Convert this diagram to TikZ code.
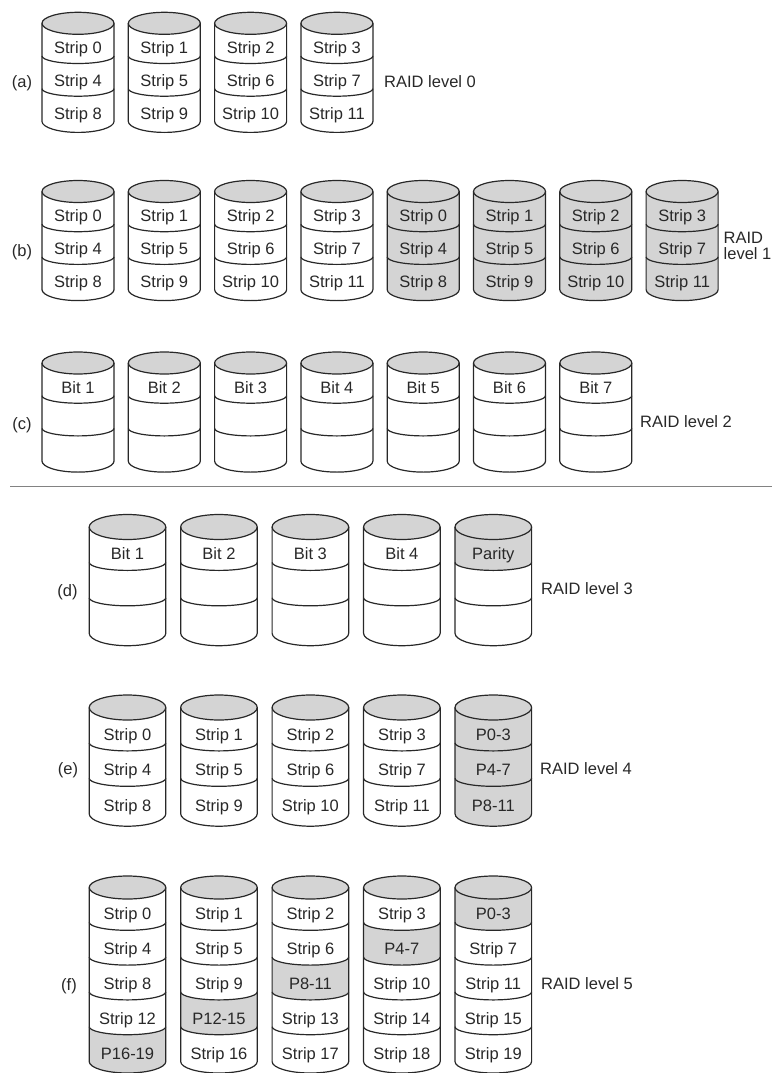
\documentclass[tikz,border=0pt]{standalone}
\usepackage{fontspec}
\setmainfont{Liberation Sans}
\definecolor{diskgray}{RGB}{212,212,212}
\definecolor{ink}{RGB}{40,40,40}
\definecolor{rulegray}{RGB}{130,130,130}
\tikzset{
  disklabel/.style={font=\fontsize{16.5}{19}\selectfont, text=ink, anchor=base, inner sep=0pt},
  rowlabel/.style={font=\fontsize{16.5}{19}\selectfont, text=ink, anchor=base, inner sep=0pt},
  raidlabel/.style={font=\fontsize{16.5}{19}\selectfont, text=ink, anchor=base west, inner sep=0pt},
  diskline/.style={draw=ink, line width=1.2pt},
  separator/.style={draw=rulegray, line width=1.3pt},
}
% #1 name, #2 centre x, #3 top-ellipse centre y (downwards), #4 number of segments, #5 label/shade list
\newcommand{\mydisk}[5]{%
  \pgfmathsetmacro{\dcx}{#2}%
  \pgfmathsetmacro{\dyt}{-(#3)}%
  \pgfmathsetmacro{\dyb}{-(#3)-(#4)*\Seg}%
  \foreach \lab/\sh [count=\k] in {#5} {%
    \pgfmathsetmacro{\ya}{\dyt-(\k-1)*\Seg}%
    \pgfmathsetmacro{\yb}{\dyt-\k*\Seg}%
    \pgfmathsetmacro{\ra}{\k==1 ? \Ry : \Dry}%
    \pgfmathsetmacro{\rb}{\k==#4 ? \Ry : \Dry}%
    \ifnum\sh=1
      \fill[diskgray] (\dcx-\Rx,\ya) arc[start angle=180,end angle=360,x radius=\Rx pt,y radius=\ra pt]
        -- (\dcx+\Rx,\yb) arc[start angle=360,end angle=180,x radius=\Rx pt,y radius=\rb pt] -- cycle;
    \fi
    \pgfmathsetmacro{\yt}{\dyt-(\k-0.5)*\Seg-\Toff-6}%
    \node[disklabel] (#1-\k) at (\dcx,\yt) {\lab};
  }%
  \filldraw[diskline, fill=diskgray] (\dcx,\dyt) ellipse[x radius=\Rx pt, y radius=\Ry pt];
  \draw[diskline] (\dcx-\Rx,\dyt) -- (\dcx-\Rx,\dyb)
    arc[start angle=180,end angle=360,x radius=\Rx pt,y radius=\Ry pt] -- (\dcx+\Rx,\dyt);
  \pgfmathtruncatemacro{\nm}{#4-1}%
  \foreach \j in {1,...,\nm} {%
    \draw[diskline] (\dcx-\Rx,\dyt-\j*\Seg) arc[start angle=180,end angle=360,x radius=\Rx pt,y radius=\Dry pt];
  }%
}
\begin{document}
\begin{tikzpicture}[x=1pt,y=1pt]
\useasboundingbox (0,0) rectangle (772,-1073);
% ---------- upper rows ----------
\def\Rx{36}\def\Ry{11}\def\Seg{32.7}\def\Dry{7.5}\def\Toff{8}
% (a)
\mydisk{a1}{78}{23.3}{3}{Strip 0/0,Strip 4/0,Strip 8/0}
\mydisk{a2}{164.3}{23.3}{3}{Strip 1/0,Strip 5/0,Strip 9/0}
\mydisk{a3}{250.6}{23.3}{3}{Strip 2/0,Strip 6/0,Strip 10/0}
\mydisk{a4}{336.9}{23.3}{3}{Strip 3/0,Strip 7/0,Strip 11/0}
\node[rowlabel] (la) at (22,-88) {(a)};
\node[raidlabel] (ra) at (384,-88) {RAID level 0};
% (b)
\mydisk{b1}{78}{191.5}{3}{Strip 0/0,Strip 4/0,Strip 8/0}
\mydisk{b2}{164.3}{191.5}{3}{Strip 1/0,Strip 5/0,Strip 9/0}
\mydisk{b3}{250.6}{191.5}{3}{Strip 2/0,Strip 6/0,Strip 10/0}
\mydisk{b4}{336.9}{191.5}{3}{Strip 3/0,Strip 7/0,Strip 11/0}
\mydisk{b5}{423.2}{191.5}{3}{Strip 0/1,Strip 4/1,Strip 8/1}
\mydisk{b6}{509.5}{191.5}{3}{Strip 1/1,Strip 5/1,Strip 9/1}
\mydisk{b7}{595.8}{191.5}{3}{Strip 2/1,Strip 6/1,Strip 10/1}
\mydisk{b8}{682.1}{191.5}{3}{Strip 3/1,Strip 7/1,Strip 11/1}
\node[rowlabel] (lb) at (22,-256) {(b)};
\node[raidlabel] (rb1) at (723.5,-243) {RAID};
\node[raidlabel] (rb2) at (723.5,-259) {level 1};
% (c)
\mydisk{c1}{78}{363}{3}{Bit 1/0,/0,/0}
\mydisk{c2}{164.3}{363}{3}{Bit 2/0,/0,/0}
\mydisk{c3}{250.6}{363}{3}{Bit 3/0,/0,/0}
\mydisk{c4}{336.9}{363}{3}{Bit 4/0,/0,/0}
\mydisk{c5}{423.2}{363}{3}{Bit 5/0,/0,/0}
\mydisk{c6}{509.5}{363}{3}{Bit 6/0,/0,/0}
\mydisk{c7}{595.8}{363}{3}{Bit 7/0,/0,/0}
\node[rowlabel] (lc) at (22,-429) {(c)};
\node[raidlabel] (rc) at (640,-427) {RAID level 2};
% separator
\coordinate (sepL) at (10,-486.7);
\coordinate (sepR) at (772,-486.7);
\draw[separator] (sepL) -- (sepR);
% ---------- lower rows ----------
\def\Rx{38.3}\def\Ry{12.5}\def\Seg{35.4}\def\Dry{8}\def\Toff{9}
% (d)
\mydisk{d1}{127.5}{527}{3}{Bit 1/0,/0,/0}
\mydisk{d2}{218.95}{527}{3}{Bit 2/0,/0,/0}
\mydisk{d3}{310.4}{527}{3}{Bit 3/0,/0,/0}
\mydisk{d4}{401.85}{527}{3}{Bit 4/0,/0,/0}
\mydisk{d5}{493.3}{527}{3}{Parity/1,/0,/0}
\node[rowlabel] (ld) at (67.5,-596) {(d)};
\node[raidlabel] (rd) at (541,-594) {RAID level 3};
% (e)
\mydisk{e1}{127.5}{707.5}{3}{Strip 0/0,Strip 4/0,Strip 8/0}
\mydisk{e2}{218.95}{707.5}{3}{Strip 1/0,Strip 5/0,Strip 9/0}
\mydisk{e3}{310.4}{707.5}{3}{Strip 2/0,Strip 6/0,Strip 10/0}
\mydisk{e4}{401.85}{707.5}{3}{Strip 3/0,Strip 7/0,Strip 11/0}
\mydisk{e5}{493.3}{707.5}{3}{P0-3/1,P4-7/1,P8-11/1}
\node[rowlabel] (le) at (68,-774) {(e)};
\node[raidlabel] (re) at (540,-774) {RAID level 4};
% (f)
\def\Ry{11.5}\def\Seg{34.8}
\mydisk{f1}{127.5}{887.5}{5}{Strip 0/0,Strip 4/0,Strip 8/0,Strip 12/0,P16-19/1}
\mydisk{f2}{218.95}{887.5}{5}{Strip 1/0,Strip 5/0,Strip 9/0,P12-15/1,Strip 16/0}
\mydisk{f3}{310.4}{887.5}{5}{Strip 2/0,Strip 6/0,P8-11/1,Strip 13/0,Strip 17/0}
\mydisk{f4}{401.85}{887.5}{5}{Strip 3/0,P4-7/1,Strip 10/0,Strip 14/0,Strip 18/0}
\mydisk{f5}{493.3}{887.5}{5}{P0-3/1,Strip 7/0,Strip 11/0,Strip 15/0,Strip 19/0}
\node[rowlabel] (lf) at (69,-990) {(f)};
\node[raidlabel] (rf) at (541,-989) {RAID level 5};
\end{tikzpicture}
\end{document}
